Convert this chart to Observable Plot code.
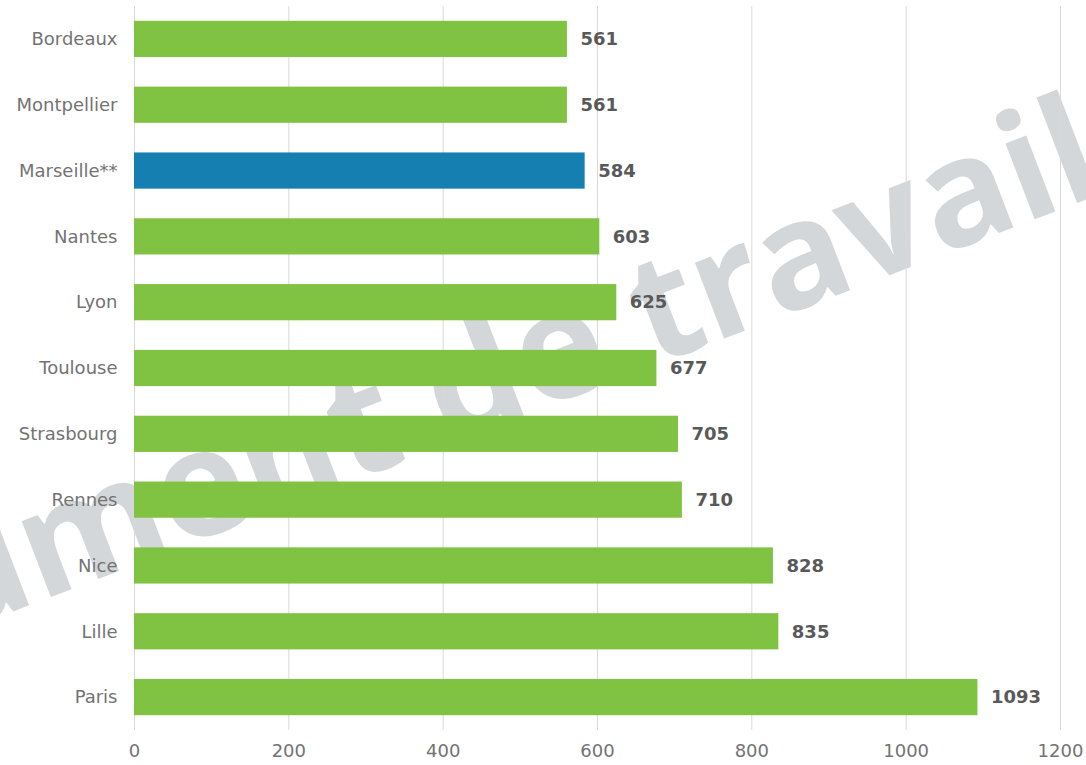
<!DOCTYPE html>
<html>
<head>
<meta charset="utf-8">
<script src="https://cdn.jsdelivr.net/npm/d3@7"></script>
<script src="https://cdn.jsdelivr.net/npm/@observablehq/plot@0.6"></script>
<style>
  html, body { margin: 0; padding: 0; background: #ffffff; }
  #chart svg { display: block; }
</style>
</head>
<body>
<div id="chart"></div>
<script>
const cities = ["Bordeaux", "Montpellier", "Marseille**", "Nantes", "Lyon", "Toulouse", "Strasbourg", "Rennes", "Nice", "Lille", "Paris"];
const values = [561, 561, 584, 603, 625, 677, 705, 710, 828, 835, 1093];
const highlight = "Marseille**";
const xTicks = [0, 200, 400, 600, 800, 1000, 1200];
const watermark = ["Document de travail"];

const data = cities.map((city, i) => ({city, value: values[i]}));

const chart = Plot.plot({
  width: 1086,
  height: 765,
  marginLeft: 134,
  marginRight: 26,
  marginTop: 6,
  marginBottom: 35,
  style: {fontFamily: "'DejaVu Sans', Verdana, sans-serif", background: "#ffffff"},
  x: {domain: [0, 1200], ticks: xTicks, tickFormat: d => String(d)},
  y: {domain: cities, paddingInner: 0.45, paddingOuter: 0.225, round: false},
  marks: [
    Plot.text(watermark, {
      frameAnchor: "middle",
      text: d => d,
      textAnchor: "end",
      rotate: -21,
      dx: 494,
      dy: -222,
      fontSize: 149,
      fontWeight: "bold",
      fontFamily: "'Open Sans', sans-serif",
      fill: "#d4d7d9"
    }),
    Plot.gridX(xTicks, {stroke: "#d9d9d9", strokeOpacity: 1, strokeWidth: 1}),
    Plot.barX(data, {
      x: "value",
      y: "city",
      fill: d => d.city === highlight ? "#157fb2" : "#80c241"
    }),
    Plot.text(data, {
      x: "value",
      y: "city",
      text: d => String(d.value),
      dx: 13,
      textAnchor: "start",
      fontSize: 18,
      fontWeight: "bold",
      fill: "#595959"
    }),
    Plot.axisY({tickSize: 0, tickPadding: 17, fontSize: 18, color: "#737373", label: null}),
    Plot.axisX(xTicks, {tickSize: 0, tickPadding: 14, fontSize: 18, color: "#737373", label: null, tickFormat: d => String(d)})
  ]
});
document.getElementById("chart").appendChild(chart);
</script>
</body>
</html>
